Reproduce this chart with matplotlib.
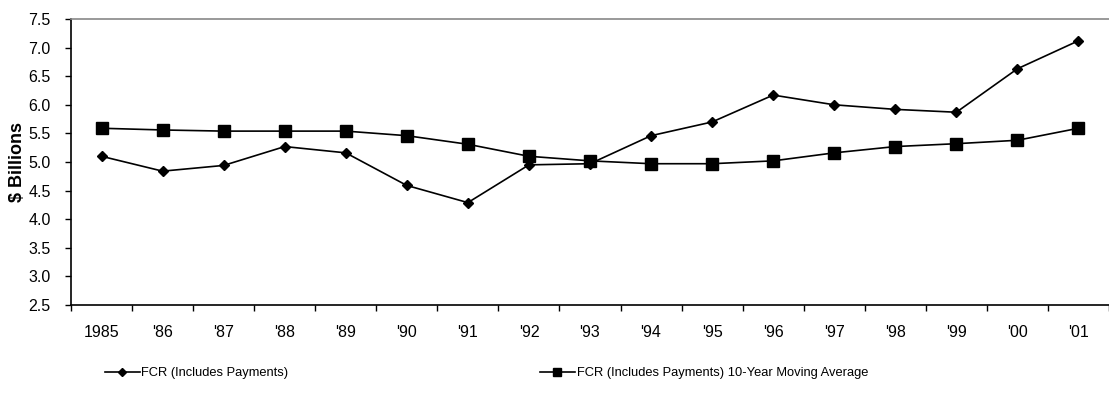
"""FCR (includes payments) with its 10-year moving average, 1985-2001."""

import matplotlib

matplotlib.use("Agg")
import matplotlib.pyplot as plt
import numpy as np
from matplotlib import font_manager

years = ["1985", "'86", "'87", "'88", "'89", "'90", "'91", "'92", "'93",
         "'94", "'95", "'96", "'97", "'98", "'99", "'00", "'01"]
fcr = [5.10, 4.84, 4.94, 5.27, 5.16, 4.59, 4.29, 4.95, 4.97,
       5.46, 5.70, 6.17, 6.00, 5.92, 5.87, 6.63, 7.12]
fcr_ma10 = [5.59, 5.56, 5.54, 5.54, 5.54, 5.46, 5.31, 5.10, 5.02,
            4.97, 4.97, 5.02, 5.16, 5.27, 5.32, 5.38, 5.59]
yticks = [2.5, 3.0, 3.5, 4.0, 4.5, 5.0, 5.5, 6.0, 6.5, 7.0, 7.5]

plt.rcParams["font.family"] = ["Liberation Sans", "DejaVu Sans"]

# legend text in the reference is a condensed face
installed = {f.name for f in font_manager.fontManager.ttflist}
narrow = "Liberation Sans Narrow" if "Liberation Sans Narrow" in installed else "Liberation Sans"
legend_size = 11 if narrow == "Liberation Sans Narrow" else 9.3

W, H = 1109, 398
fig = plt.figure(figsize=(W / 100, H / 100), dpi=100)
# axes box in pixels: left 71, top 19, bottom 305, runs off the right edge
left, top, bottom, right = 71, 19, 305, 1109
ax = fig.add_axes([left / W, 1 - bottom / H, (right - left) / W, (bottom - top) / H])

x = np.arange(len(years))
l1, = ax.plot(x, fcr, color="black", lw=1.2, marker="D", ms=5.5, mfc="black",
              mec="black", clip_on=False, zorder=3)
l2, = ax.plot(x, fcr_ma10, color="black", lw=1.2, marker="s", ms=8, mfc="black",
              mec="black", clip_on=False, zorder=3)

# category width ~61.8 px; axis would end past the image edge
ax.set_xlim(-0.5, -0.5 + (right - left) / 61.8)
ax.set_ylim(2.5, 7.5)
ax.set_yticks(yticks)
ax.set_yticklabels([f"{v:.1f}" for v in yticks], fontsize=11.5)
ax.set_xticks(np.arange(len(years) + 1) - 0.5, minor=False)
ax.set_xticklabels([])
ax.set_xticks(x, minor=True)
ax.set_xticklabels(years, minor=True, fontsize=11.5)
ax.tick_params(axis="x", which="minor", length=0, pad=14.5)
ax.tick_params(axis="x", which="major", length=4, width=1, direction="out")
ax.tick_params(axis="y", length=4, width=1, direction="out", pad=10.5)

ax.spines["right"].set_visible(False)
ax.spines["top"].set_color("#888888")
ax.spines["top"].set_linewidth(1.2)
for s in ("left", "bottom"):
    ax.spines[s].set_linewidth(1.2)

ax.set_ylabel("$ Billions", fontsize=13, fontweight="bold", labelpad=0)
ax.yaxis.set_label_coords(-(left - 26) / (right - left), 0.5)

fig.legend([l1, l2], ["FCR (Includes Payments)",
                      "FCR (Includes Payments) 10-Year Moving Average"],
           loc="center left", bbox_to_anchor=(93 / W, 1 - 373 / H), ncol=2,
           frameon=False, prop={"family": narrow, "size": legend_size},
           handlelength=2.7, handletextpad=0.15, columnspacing=19.45,
           markerscale=0.75)

fig.savefig("out.png", dpi=100)
